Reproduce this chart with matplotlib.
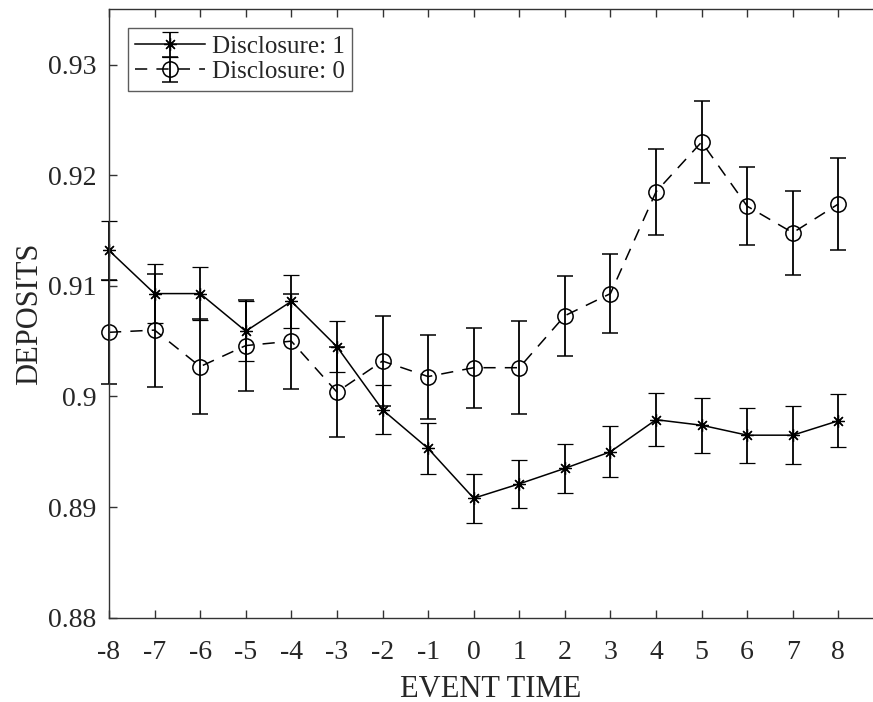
import matplotlib
matplotlib.use("Agg")
import matplotlib.pyplot as plt
import numpy as np

event_time = list(range(-8, 9))
disc1 = [0.9132, 0.9093, 0.9093, 0.9059, 0.9086, 0.9045, 0.8988, 0.8953, 0.8908,
         0.8921, 0.8935, 0.8950, 0.8979, 0.8974, 0.8965, 0.8965, 0.8978]
disc1_err = [0.0027, 0.0027, 0.0024, 0.0027, 0.0024, 0.0023, 0.0022, 0.0023, 0.0022,
             0.0022, 0.0022, 0.0023, 0.0024, 0.0025, 0.0025, 0.0026, 0.0024]
disc0 = [0.9058, 0.9060, 0.9027, 0.9046, 0.9050, 0.9004, 0.9032, 0.9018, 0.9026,
         0.9026, 0.9073, 0.9093, 0.9185, 0.9230, 0.9172, 0.9148, 0.9174]
disc0_err = [0.0047, 0.0051, 0.0043, 0.0041, 0.0043, 0.0041, 0.0041, 0.0038, 0.0036,
             0.0042, 0.0036, 0.0036, 0.0039, 0.0037, 0.0035, 0.0038, 0.0042]
xticks = list(range(-8, 9))
xtick_labels = [str(v) for v in xticks]
yticks = [0.88, 0.89, 0.90, 0.91, 0.92, 0.93]
ytick_labels = ["0.88", "0.89", "0.9", "0.91", "0.92", "0.93"]

plt.rcParams['font.family'] = ['Liberation Serif', 'DejaVu Serif']
txt = '#262626'

fig = plt.figure(figsize=(8.73, 7.02), dpi=100)
ax = fig.add_axes([109/873, (702-617.7)/702, (873-109)/873, (617.7-9.3)/702])

c1 = ax.errorbar(event_time, disc1, yerr=disc1_err, color='black', ecolor='black',
                 lw=1.1, elinewidth=1.3, capsize=6, capthick=1.3,
                 marker=(8, 2, 0), markersize=9, markeredgewidth=0.9,
                 label='Disclosure: 1')
c0 = ax.errorbar(event_time, disc0, yerr=disc0_err, color='black', ecolor='black',
                 lw=1.1, elinewidth=1.3, capsize=6, capthick=1.3,
                 linestyle=(0, (8, 6)), marker='o', markersize=11, markerfacecolor='none',
                 markeredgewidth=1.1, label='Disclosure: 0')
for cont in (c1, c0):
    for art in cont.get_children():
        art.set_clip_on(False)

ax.set_xlim(-8, 8.76)
ax.set_ylim(0.88, 0.935)
ax.set_xticks(xticks)
ax.set_xticklabels(xtick_labels)
ax.set_yticks(yticks)
ax.set_yticklabels(ytick_labels)

for s in ['left', 'bottom', 'top']:
    ax.spines[s].set_color('#333333')
    ax.spines[s].set_linewidth(1.0)
ax.spines['right'].set_visible(False)
ax.tick_params(direction='in', top=True, right=False, length=6, width=1.0,
               color='#333333', labelsize=20, labelcolor=txt)
ax.tick_params(axis='x', pad=16)
ax.tick_params(axis='y', pad=9)

ax.set_xlabel('EVENT TIME', fontsize=22, color=txt, labelpad=7)
ax.set_ylabel('DEPOSITS', fontsize=22, color=txt, labelpad=3)

leg = ax.legend(loc='upper left', fontsize=18, frameon=True, fancybox=False,
                edgecolor='#333333', handlelength=2.8, handletextpad=0.25,
                labelspacing=0.1, borderpad=0.3, borderaxespad=0.75)
leg.get_frame().set_linewidth(1.0)
for t in leg.get_texts():
    t.set_color(txt)

fig.savefig('out.png', dpi=100)
